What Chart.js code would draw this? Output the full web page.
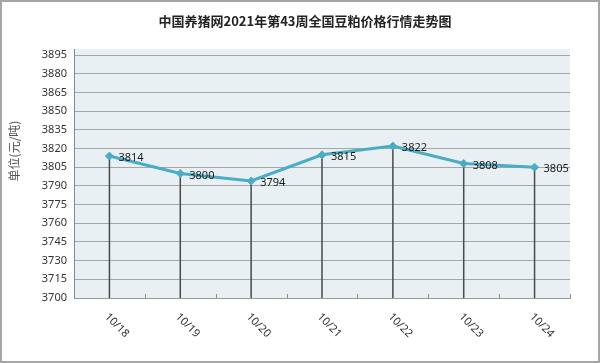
<!DOCTYPE html>
<html>
<head>
<meta charset="utf-8">
<script src="https://cdn.jsdelivr.net/npm/chart.js@4"></script>
<style>
  html, body { margin: 0; padding: 0; background: #fff; }
  #wrap { width: 600px; height: 363px; }
</style>
</head>
<body>
<div id="wrap"><canvas id="priceChart" width="600" height="363"></canvas></div>
<script>
// weekly soybean meal price, yuan / ton
var dates = ['10/18', '10/19', '10/20', '10/21', '10/22', '10/23', '10/24'];
var prices = [3814, 3800, 3794, 3815, 3822, 3808, 3805];
var yTicks = [3700, 3715, 3730, 3745, 3760, 3775, 3790, 3805, 3820, 3835, 3850, 3865, 3880, 3895];

var chartTitle = '中国养猪网2021年第43周全国豆粕价格行情走势图';
var yTitle = '单位(元/吨)';

var lineColor = '#4bacc6';

// background, drop lines, labels, border etc.
var extras = {
    id: 'extras',
    beforeDraw: function (chart) {
        var ctx = chart.ctx, a = chart.chartArea;
        ctx.save();
        ctx.fillStyle = '#fff';
        ctx.fillRect(0, 0, chart.width, chart.height);
        ctx.fillStyle = '#e9f0f4';
        ctx.fillRect(a.left, a.top, a.right - a.left, a.bottom - a.top);
        ctx.restore();
    },
    beforeDatasetsDraw: function (chart) {
        var ctx = chart.ctx, a = chart.chartArea;
        var pts = chart.getDatasetMeta(0).data;
        var xs = chart.scales.x;
        ctx.save();
        // small ticks at the category boundaries
        ctx.strokeStyle = '#8c8c8c';
        ctx.lineWidth = 1;
        for (var i = 0; i <= dates.length; i++) {
            var bx;
            if (i === 0) bx = a.left;
            else if (i === dates.length) bx = a.right;
            else bx = (xs.getPixelForValue(i - 1) + xs.getPixelForValue(i)) / 2;
            bx = Math.round(bx) + 0.5;
            ctx.beginPath();
            ctx.moveTo(bx, a.bottom);
            ctx.lineTo(bx, a.bottom - 4);
            ctx.stroke();
        }
        // drop lines
        ctx.strokeStyle = '#4a4a4a';
        ctx.lineWidth = 1.5;
        pts.forEach(function (p) {
            ctx.beginPath();
            ctx.moveTo(p.x, p.y);
            ctx.lineTo(p.x, a.bottom);
            ctx.stroke();
        });
        ctx.restore();
    },
    afterDraw: function (chart) {
        var ctx = chart.ctx, a = chart.chartArea;
        var pts = chart.getDatasetMeta(0).data;
        var xs = chart.scales.x;
        ctx.save();

        // value labels
        ctx.fillStyle = '#1a1a1a';
        ctx.font = '11px "Noto Sans", sans-serif';
        ctx.textAlign = 'left';
        ctx.textBaseline = 'middle';
        pts.forEach(function (p, i) {
            ctx.fillText(String(prices[i]), p.x + 9, p.y + 2);
        });

        // rotated date labels
        ctx.fillStyle = '#333';
        ctx.font = '11px "Noto Sans", sans-serif';
        dates.forEach(function (d, i) {
            var x = xs.getPixelForValue(i);
            ctx.save();
            ctx.translate(x - 3, a.bottom + 17);
            ctx.rotate(Math.PI / 4);
            ctx.textAlign = 'left';
            ctx.textBaseline = 'middle';
            ctx.fillText(d, 0, 0);
            ctx.restore();
        });

        // title
        ctx.fillStyle = '#222';
        ctx.font = 'bold 13px "Noto Sans CJK SC", sans-serif';
        ctx.textAlign = 'center';
        ctx.textBaseline = 'middle';
        ctx.fillText(chartTitle, 305, 21);

        // y axis title
        ctx.save();
        ctx.translate(14, 151);
        ctx.rotate(-Math.PI / 2);
        ctx.fillStyle = '#555';
        ctx.font = '12px "Noto Sans CJK SC", sans-serif';
        ctx.textAlign = 'center';
        ctx.textBaseline = 'middle';
        ctx.fillText(yTitle, 0, 0);
        ctx.restore();

        // outer frame
        ctx.strokeStyle = '#a6a6a6';
        ctx.lineWidth = 2;
        ctx.strokeRect(1, 1, chart.width - 2, chart.height - 2);
        ctx.restore();
    }
};

var ctx = document.getElementById('priceChart').getContext('2d');
new Chart(ctx, {
    type: 'line',
    data: {
        labels: dates,
        datasets: [{
            data: prices,
            borderColor: lineColor,
            backgroundColor: lineColor,
            borderWidth: 3,
            tension: 0,
            pointStyle: 'rectRot',
            pointRadius: 4,
            pointBorderWidth: 1,
            pointBackgroundColor: lineColor,
            pointBorderColor: lineColor
        }]
    },
    options: {
        responsive: false,
        animation: false,
        devicePixelRatio: 1,
        layout: { padding: { top: 49, right: 30, left: 0, bottom: 0 } },
        plugins: {
            legend: { display: false },
            tooltip: { enabled: false },
            title: { display: false }
        },
        scales: {
            x: {
                offset: true,
                ticks: { display: false },
                grid: { display: false, drawTicks: false },
                border: { display: true, color: '#9a9a9a', width: 1 },
                afterFit: function (s) { s.height = 65; }
            },
            y: {
                min: 3700,
                max: 3900,
                afterBuildTicks: function (s) {
                    s.ticks = yTicks.map(function (v) { return { value: v }; });
                },
                ticks: {
                    color: '#333',
                    font: { size: 11, family: '"Noto Sans", sans-serif' },
                    padding: 7,
                    callback: function (v) { return String(v); }
                },
                grid: { color: '#a6a6a6', lineWidth: 1, drawTicks: false, tickLength: 0 },
                border: { display: true, color: '#8a8a8a', width: 1 },
                afterFit: function (s) { s.width = 74; }
            }
        }
    },
    plugins: [extras]
});
</script>
</body>
</html>
